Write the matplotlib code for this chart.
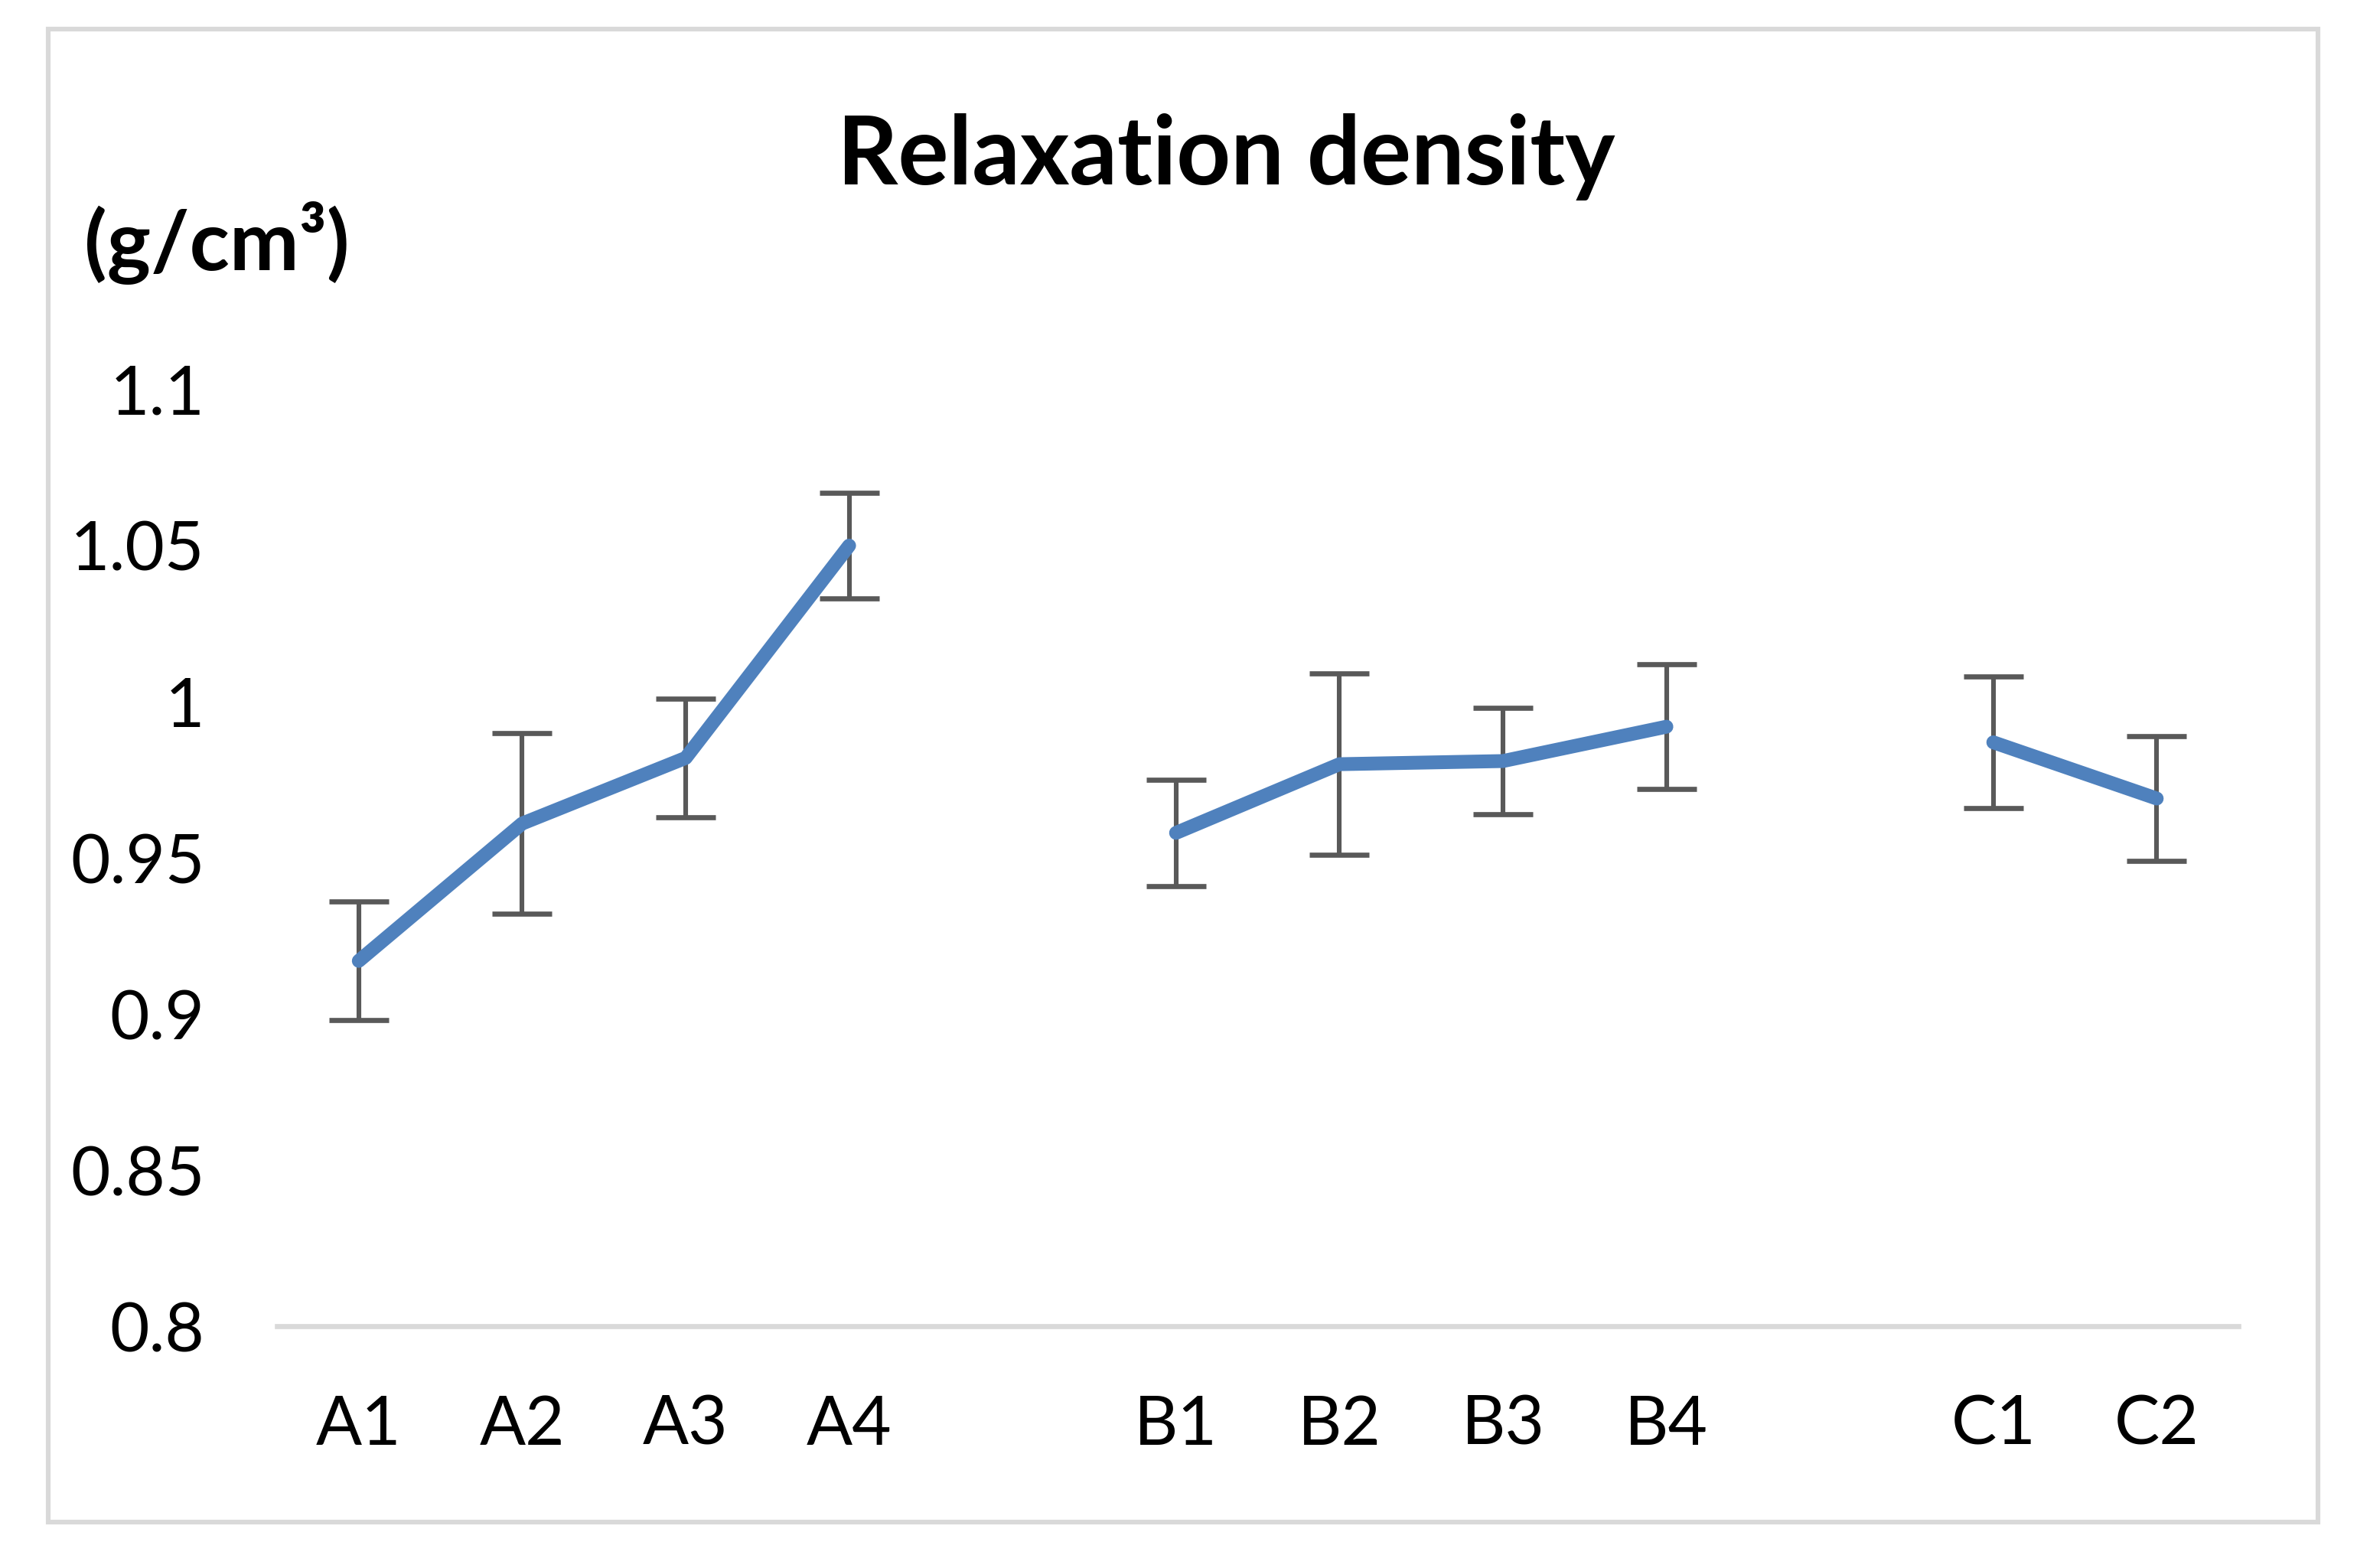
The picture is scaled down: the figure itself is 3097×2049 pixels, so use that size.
import numpy as np
import matplotlib
matplotlib.use("Agg")
import matplotlib.pyplot as plt
from matplotlib.patches import Rectangle

# ----- data (blank slots separate the A, B and C groups) -----
categories = ["A1", "A2", "A3", "A4", "", "B1", "B2", "B3", "B4", "", "C1", "C2"]
density = [0.917, 0.961, 0.982, 1.050, np.nan, 0.958, 0.980, 0.981, 0.992, np.nan, 0.987, 0.969]
errors = [0.019, 0.029, 0.019, 0.017, np.nan, 0.017, 0.029, 0.017, 0.020, np.nan, 0.021, 0.020]
y_ticks = [0.8, 0.85, 0.9, 0.95, 1.0, 1.05, 1.1]
y_tick_labels = ["0.8", "0.85", "0.9", "0.95", "1", "1.05", "1.1"]

plt.rcParams["font.family"] = ["Lato", "DejaVu Sans"]

fig = plt.figure(figsize=(15.485, 10.245), dpi=200)
ax = fig.add_axes([0.1169, 0.1542, 0.8276, 0.5974])

x = np.arange(len(categories))
ax.errorbar(x, density, yerr=errors, fmt="none", ecolor="#595959",
            elinewidth=2.2, capsize=14, capthick=2.4, zorder=2)
ax.plot(x, density, color="#4F81BD", lw=6.5, solid_capstyle="round",
        solid_joinstyle="round", zorder=3)

ax.set_xlim(-0.5, len(categories) - 0.5)
ax.set_ylim(0.8, 1.1)
ax.set_xticks(x)
ax.set_xticklabels(categories)
ax.set_yticks(y_ticks)
ax.set_yticklabels(y_tick_labels)
ax.tick_params(axis="both", length=0, labelsize=32, colors="black")
ax.tick_params(axis="y", pad=34)
ax.tick_params(axis="x", pad=32)

for side in ["top", "right", "left"]:
    ax.spines[side].set_visible(False)
ax.spines["bottom"].set_color("#d9d9d9")
ax.spines["bottom"].set_linewidth(2.4)

# title and unit label
fig.text(0.5175, 0.900, "Relaxation density", ha="center", va="center",
         fontsize=44.5, fontweight="bold")
fig.text(0.0355, 0.845, "(g/cm³)", ha="left", va="center",
         fontsize=39, fontweight="bold")

# outer chart border
fig.patches.append(Rectangle((0.0203, 0.0293), 0.9577, 0.9522, transform=fig.transFigure,
                             fill=False, edgecolor="#d9d9d9", lw=2.2))

fig.savefig("out.png", dpi=200, facecolor="white")
